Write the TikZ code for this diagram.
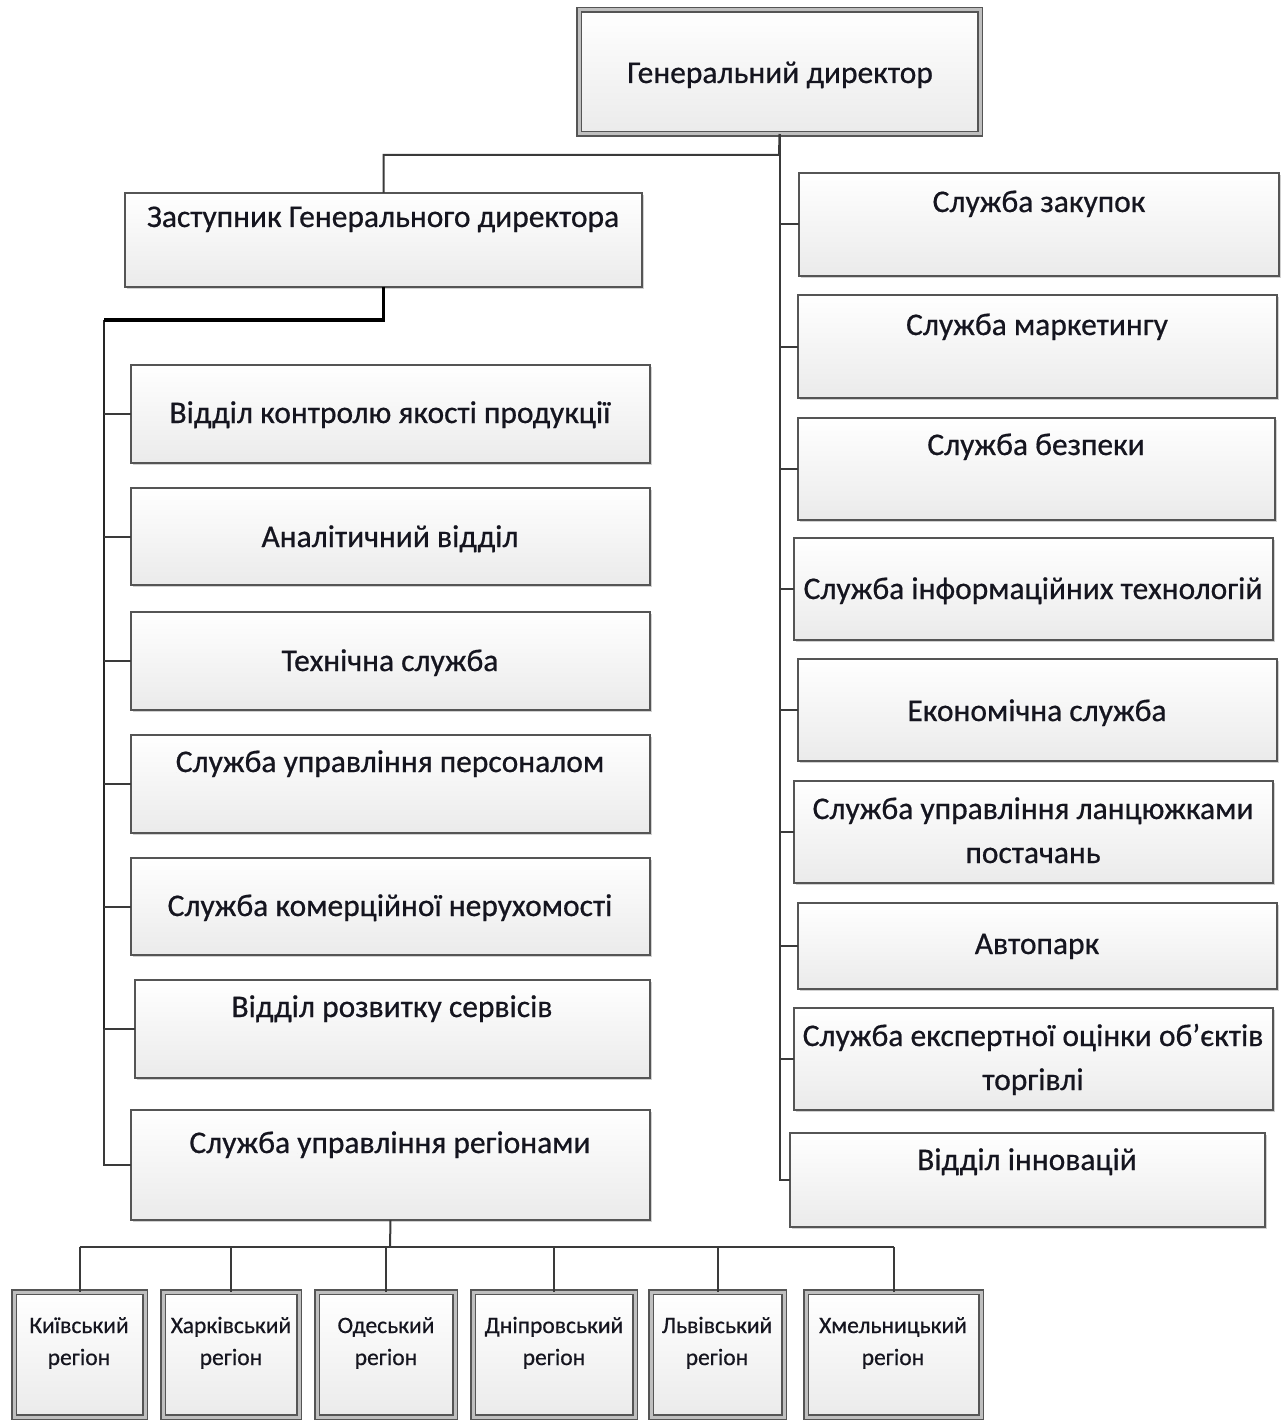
\documentclass[tikz,border=0pt]{standalone}
\usepackage{fontspec}
\setmainfont{Carlito}
\newfontfamily\lblfont{Carlito}[FakeBold=0.6]
\usetikzlibrary{shadows}
\definecolor{bordc}{HTML}{555555}
\definecolor{linec}{HTML}{3A3A3A}
\definecolor{txtc}{HTML}{15151F}
\tikzset{
  box/.style={draw=bordc, line width=1.4pt, top color=white, bottom color=black!8,
    drop shadow={shadow xshift=2pt, shadow yshift=-2pt, opacity=0.3, fill=black!60},
    inner sep=0pt, outer sep=0pt, anchor=north west},
  dbox/.style={box, double=black!25, double distance=3pt, line width=1.2pt},
  conn/.style={draw=linec, line width=2pt},
  thickconn/.style={draw=black, line width=3.2pt},
  midconn/.style={draw=black!85, line width=2.6pt},
  lbl/.style={text=txtc, font=\lblfont\fontsize{31.5}{44}\selectfont, align=center, inner sep=0pt, anchor=base},
  slbl/.style={text=txtc, font=\lblfont\fontsize{23.5}{32}\selectfont, align=center, inner sep=0pt, anchor=base}
}
\newcommand\mybx[6][box]{%
  \pgfmathsetmacro\bw{#5-#3}\pgfmathsetmacro\bh{#6-#4}%
  \node[#1, minimum width=\bw pt, minimum height=\bh pt] (#2) at (#3,#4) {};}
\begin{document}
\begin{tikzpicture}[x=1pt,y=-1pt]
\useasboundingbox (0,0) rectangle (1283,1420);
% boxes
\mybx[dbox]{gd}{579}{10}{980}{134}
\mybx{dep}{125}{193}{642}{287}
\mybx{l1}{131}{365}{650}{463}
\mybx{l2}{131}{488}{650}{585}
\mybx{l3}{131}{612}{650}{710}
\mybx{l4}{131}{735}{650}{833}
\mybx{l5}{131}{858}{650}{955}
\mybx{l6}{135}{980}{650}{1078}
\mybx{l7}{131}{1110}{650}{1220}
\mybx{r1}{799}{173}{1279}{276}
\mybx{r2}{798}{295}{1277}{398}
\mybx{r3}{798}{418}{1275}{520}
\mybx{r4}{794}{538}{1273}{640}
\mybx{r5}{798}{659}{1277}{761}
\mybx{r6}{794}{781}{1273}{883}
\mybx{r7}{798}{903}{1277}{989}
\mybx{r8}{794}{1008}{1273}{1110}
\mybx{r9}{790}{1133}{1265}{1227}
\mybx[dbox]{g1}{14}{1292}{145}{1417}
\mybx[dbox]{g2}{163}{1292}{299}{1417}
\mybx[dbox]{g3}{317}{1292}{455}{1417}
\mybx[dbox]{g4}{473}{1292}{635}{1417}
\mybx[dbox]{g5}{651}{1292}{784}{1417}
\mybx[dbox]{g6}{806}{1292}{981}{1417}
% texts (anchor = baseline of last line)
\node[lbl] (tgd) at (780,83) {Генеральний директор};
\node[lbl] (tdep) at (383,227) {Заступник Генерального директора};
\node[lbl] (tl1) at (390,423) {Відділ контролю якості продукції};
\node[lbl] (tl2) at (390,547) {Аналітичний відділ};
\node[lbl] (tl3) at (390,671) {Технічна служба};
\node[lbl] (tl4) at (390,772) {Служба управління персоналом};
\node[lbl] (tl5) at (390,916) {Служба комерційної нерухомості};
\node[lbl] (tl6) at (392,1017) {Відділ розвитку сервісів};
\node[lbl] (tl7) at (390,1153) {Служба управління регіонами};
\node[lbl] (tr1) at (1039,212) {Служба закупок};
\node[lbl] (tr2) at (1037,335) {Служба маркетингу};
\node[lbl] (tr3) at (1036,455) {Служба безпеки};
\node[lbl] (tr4) at (1033,599) {Служба інформаційних технологій};
\node[lbl] (tr5) at (1037,721) {Економічна служба};
\node[lbl] (tr6) at (1033,863) {Служба управління ланцюжками\\постачань};
\node[lbl] (tr7) at (1037,954) {Автопарк};
\node[lbl] (tr8) at (1033,1090) {Служба експертної оцінки об’єктів\\торгівлі};
\node[lbl] (tr9) at (1027,1170) {Відділ інновацій};
\node[slbl] (tg1) at (79,1365) {Київський\\регіон};
\node[slbl] (tg2) at (231,1365) {Харківський\\регіон};
\node[slbl] (tg3) at (386,1365) {Одеський\\регіон};
\node[slbl] (tg4) at (554,1365) {Дніпровський\\регіон};
\node[slbl] (tg5) at (717,1365) {Львівський\\регіон};
\node[slbl] (tg6) at (893,1365) {Хмельницький\\регіон};
% connectors top
\coordinate (j1) at (779,155);
\draw[conn] (gd.south) -- (j1) -| (dep.north);
\draw[conn] (gd.south) |- (r9.west);
\foreach \r in {r1,r2,r3,r4,r5,r6,r7,r8}{\draw[conn] (gd.south |- \r.west) -- (\r.west);}
% left trunk
\coordinate (lt) at (104,320);
\draw[conn] (lt |- l6.west) |- (l7.west);
\draw[midconn] (lt) -- (lt |- l6.west);
\draw[thickconn] (dep.south) |- (lt);
\foreach \l in {l1,l2,l3,l4,l5,l6}{\draw[conn] (lt |- \l.west) -- (\l.west);}
% regions
\coordinate (bj) at (390,1247);
\draw[conn] (l7.south) -- (bj);
\draw[conn] (g1.north |- bj) -- (g6.north |- bj);
\foreach \g in {g1,g2,g3,g4,g5,g6}{\draw[conn] (\g.north |- bj) -- (\g.north);}
\end{tikzpicture}
\end{document}
